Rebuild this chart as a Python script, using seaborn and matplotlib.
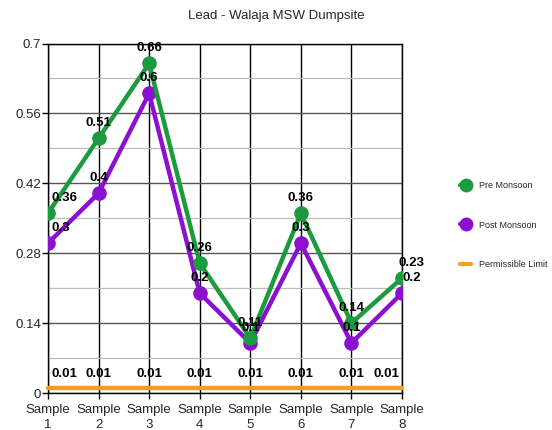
import matplotlib
matplotlib.use("Agg")
import matplotlib.pyplot as plt
from matplotlib.lines import Line2D
from matplotlib.ticker import MultipleLocator
import seaborn as sns
import pandas as pd

samples = ["Sample\n1", "Sample\n2", "Sample\n3", "Sample\n4",
           "Sample\n5", "Sample\n6", "Sample\n7", "Sample\n8"]
pre_monsoon = [0.36, 0.51, 0.66, 0.26, 0.11, 0.36, 0.14, 0.23]
post_monsoon = [0.3, 0.4, 0.6, 0.2, 0.1, 0.3, 0.1, 0.2]
permissible_limit = [0.01, 0.01, 0.01, 0.01, 0.01, 0.01, 0.01, 0.01]
y_ticks = [0, 0.14, 0.28, 0.42, 0.56, 0.7]

GREEN = "#1c9a3e"
PURPLE = "#8c10cf"
ORANGE = "#f49c1f"

sns.set_style("white")
plt.rcParams["font.family"] = ["Liberation Sans", "DejaVu Sans"]

pos = list(range(len(samples)))
df = pd.DataFrame({
    "pos": pos * 3,
    "value": post_monsoon + pre_monsoon + permissible_limit,
    "series": ["Post Monsoon"] * 8 + ["Pre Monsoon"] * 8 + ["Permissible Limit"] * 8,
})

fig = plt.figure(figsize=(5.52, 4.30), dpi=100)
ax = fig.add_axes([48 / 552, 37 / 430, 354 / 552, 349.5 / 430])

# gridlines: minor light, major darker horizontals, black verticals
ax.set_ylim(0, 0.7)
ax.set_xlim(0, 7)
ax.yaxis.set_major_locator(MultipleLocator(0.14))
ax.yaxis.set_minor_locator(MultipleLocator(0.07))
ax.grid(axis="y", which="minor", color="#bdbdbd", lw=0.9, zorder=0)
ax.grid(axis="y", which="major", color="#555555", lw=1.0, zorder=0)
ax.grid(axis="x", which="major", color="black", lw=1.0, zorder=0)
ax.set_axisbelow(True)

sns.lineplot(data=df[df.series == "Post Monsoon"], x="pos", y="value",
             color=PURPLE, lw=3.2, marker="o", markersize=10.5,
             markeredgewidth=0, ax=ax, legend=False, zorder=3)
sns.lineplot(data=df[df.series == "Pre Monsoon"], x="pos", y="value",
             color=GREEN, lw=3.2, marker="o", markersize=10.5,
             markeredgewidth=0, ax=ax, legend=False, zorder=4)
sns.lineplot(data=df[df.series == "Permissible Limit"], x="pos", y="value",
             color=ORANGE, lw=3.2, ax=ax, legend=False, zorder=5,
             solid_capstyle="round", clip_on=False)

ax.set_xticks(pos)
ax.set_xticklabels(samples, fontsize=9.5, linespacing=1.3)
ax.set_yticks(y_ticks)
ax.set_yticklabels(["0", "0.14", "0.28", "0.42", "0.56", "0.7"], fontsize=9.5)
ax.set_xlabel("")
ax.set_ylabel("")
ax.tick_params(axis="both", which="major", direction="out", length=4,
               width=1, color="black", left=True, bottom=True)
ax.tick_params(axis="x", which="major", pad=4)
ax.tick_params(axis="y", which="major", pad=1)
ax.tick_params(axis="y", which="minor", length=0)
for side in ["left", "bottom", "top", "right"]:
    ax.spines[side].set_visible(True)
    ax.spines[side].set_color("black")
    ax.spines[side].set_linewidth(1.0)


def label_series(values, fmt_offset):
    for i, v in enumerate(values):
        dx = 0
        ha = "center"
        if i == 0:
            ha, dx = "left", 4
        elif i == len(values) - 1:
            dx = 10
        ax.annotate(f"{v:g}", (i, v), xytext=(dx, fmt_offset),
                    textcoords="offset pixels", ha=ha, va="center",
                    fontsize=9.5, fontweight="bold", color="black",
                    zorder=6, annotation_clip=False)


label_series(pre_monsoon, 15)
label_series(post_monsoon, 15)

for i, v in enumerate(permissible_limit):
    ha, dx = "center", 0
    if i == 0:
        ha, dx = "left", 3
    elif i == len(permissible_limit) - 1:
        ha, dx = "right", -3
    ax.annotate(f"{v:g}", (i, v), xytext=(dx, 14), textcoords="offset pixels",
                ha=ha, va="center", fontsize=9.5, fontweight="bold",
                color="black", zorder=6)

fig.text(0.5, 1 - 16 / 430, "Lead - Walaja MSW Dumpsite",
         ha="center", va="center", fontsize=9.5)

handles = [
    Line2D([], [], color=GREEN, lw=3, marker="o", markersize=9),
    Line2D([], [], color=PURPLE, lw=3, marker="o", markersize=9),
    Line2D([], [], color=ORANGE, lw=3, solid_capstyle="round"),
]
fig.legend(handles, ["Pre Monsoon", "Post Monsoon", "Permissible Limit"],
           loc="center left", bbox_to_anchor=(452 / 552, 1 - 225 / 430),
           frameon=False, fontsize=6.5, handlelength=1.2, handletextpad=0.9,
           labelspacing=3.4)

fig.savefig("out.png", dpi=100)
